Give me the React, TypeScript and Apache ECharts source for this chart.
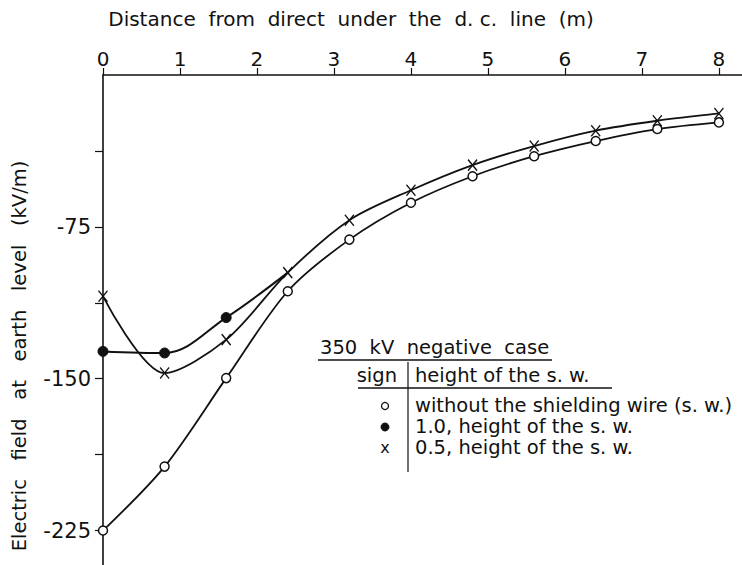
import React, { useEffect, useRef } from "react";
import * as echarts from "echarts";

// Distances (m) from directly under the d.c. line
const distances = [0, 0.8, 1.6, 2.4, 3.2, 4.0, 4.8, 5.6, 6.4, 7.2, 8.0];
// Electric field at earth level (kV/m)
const withoutSW = [-225, -193.4, -149.7, -106.8, -81.3, -63.1, -50.0, -40.1, -32.6, -26.7, -23.4];
const halfHeightSW = [-109.3, -147.2, -130.7, -97.6, -71.7, -56.9, -44.5, -35.1, -27.5, -22.6, -19.0];
const fullHeightDistances = [0, 0.8, 1.6, 2.4];
const fullHeightSW = [-136.5, -137.3, -119.8, -97.6];

const xTickValues = [0, 1, 2, 3, 4, 5, 6, 7, 8];
const yTickValues = [-37.5, -75, -112.5, -150, -187.5, -225];
const yLabelValues = [-75, -150, -225];

const xTitle = "Distance  from  direct  under  the  d. c.  line  (m)";
const yTitle = "Electric   field   at   earth   level   (kV/m)";
const legendTitle = "350  kV  negative  case";
const legendHeadSign = "sign";
const legendHeadHeight = "height of the s. w.";
const legendRows = [
  "without the shielding wire (s. w.)",
  "1.0, height of the s. w.",
  "0.5, height of the s. w.",
];

const FONT = "DejaVu Sans";
const INK = "#111";

export default function App() {
  const ref = useRef<HTMLDivElement>(null);
  useEffect(() => {
    if (!ref.current) return;
    const chart = echarts.init(ref.current, undefined, { renderer: "svg" });
    const txt = { fill: INK, fontFamily: FONT, fontSize: 19.5 };
    const option: any = {
      animation: false,
      backgroundColor: "#fff",
      grid: { left: 103, top: 75, right: 0, bottom: 0, containLabel: false },
      xAxis: {
        type: "value",
        position: "top",
        min: 0,
        max: 8.3,
        axisLine: { show: true, onZero: false, lineStyle: { color: INK, width: 1.6 } },
        axisTick: { show: true, customValues: xTickValues, length: 7, lineStyle: { color: INK, width: 1.2 } },
        axisLabel: { customValues: xTickValues, fontSize: 20, color: INK, fontFamily: FONT, margin: 6 },
        splitLine: { show: false },
      },
      yAxis: {
        type: "value",
        min: -242,
        max: 0,
        axisLine: { show: true, onZero: false, lineStyle: { color: INK, width: 1.6 } },
        axisTick: { show: true, customValues: yTickValues, length: 8, lineStyle: { color: INK, width: 1.2 } },
        axisLabel: { customValues: yLabelValues, fontSize: 21, color: INK, fontFamily: FONT, margin: 12 },
        splitLine: { show: false },
      },
      series: [
        {
          name: legendRows[0],
          type: "line",
          smooth: 0.3,
          data: distances.map((d, i) => [d, withoutSW[i]]),
          symbol: "circle",
          symbolSize: 9,
          lineStyle: { color: INK, width: 1.8 },
          itemStyle: { color: "#fff", borderColor: INK, borderWidth: 1.5 },
          z: 3,
        },
        {
          name: legendRows[1],
          type: "line",
          smooth: 0.35,
          data: fullHeightDistances.map((d, i) =>
            i === fullHeightDistances.length - 1
              ? { value: [d, fullHeightSW[i]], symbol: "none" }
              : [d, fullHeightSW[i]]
          ),
          symbol: "circle",
          symbolSize: 10,
          lineStyle: { color: INK, width: 2 },
          itemStyle: { color: INK, borderColor: INK, borderWidth: 1 },
          z: 4,
        },
        {
          name: legendRows[2],
          type: "line",
          smooth: 0.3,
          data: distances.map((d, i) => [d, halfHeightSW[i]]),
          symbol: "path://M0 0 L10 12 M10 0 L0 12",
          symbolSize: [9, 11],
          lineStyle: { color: INK, width: 1.8 },
          itemStyle: { color: "#fff", borderColor: INK, borderWidth: 1.4 },
          z: 5,
        },
      ],
      graphic: [
        { type: "text", x: 351, y: 19, style: { ...txt, fontSize: 20, text: xTitle, textAlign: "center", textVerticalAlign: "middle" } },
        {
          type: "text",
          x: 19,
          y: 356,
          rotation: Math.PI / 2,
          style: { ...txt, text: yTitle, textAlign: "center", textVerticalAlign: "middle" },
        },
        { type: "text", x: 320, y: 347, style: { ...txt, text: legendTitle, textVerticalAlign: "middle" } },
        { type: "line", shape: { x1: 318, y1: 360, x2: 552, y2: 360 }, style: { stroke: INK, lineWidth: 1.5 } },
        { type: "text", x: 397, y: 375, style: { ...txt, text: legendHeadSign, textAlign: "right", textVerticalAlign: "middle" } },
        { type: "text", x: 415, y: 375, style: { ...txt, text: legendHeadHeight, textVerticalAlign: "middle" } },
        { type: "line", shape: { x1: 408, y1: 362, x2: 408, y2: 472 }, style: { stroke: INK, lineWidth: 1.2 } },
        { type: "line", shape: { x1: 358, y1: 388, x2: 612, y2: 388 }, style: { stroke: INK, lineWidth: 1.5 } },
        { type: "circle", shape: { cx: 385, cy: 406, r: 3.5 }, style: { fill: "#fff", stroke: INK, lineWidth: 1.3 } },
        { type: "circle", shape: { cx: 385, cy: 427, r: 4 }, style: { fill: INK, stroke: INK, lineWidth: 1 } },
        { type: "text", x: 385, y: 447, style: { ...txt, fontSize: 16, text: "x", textAlign: "center", textVerticalAlign: "middle" } },
        { type: "text", x: 415, y: 405, style: { ...txt, text: legendRows[0], textVerticalAlign: "middle" } },
        { type: "text", x: 415, y: 426, style: { ...txt, text: legendRows[1], textVerticalAlign: "middle" } },
        { type: "text", x: 415, y: 447, style: { ...txt, text: legendRows[2], textVerticalAlign: "middle" } },
      ],
    };
    chart.setOption(option);
    return () => chart.dispose();
  }, []);
  return (
    <div
      ref={ref}
      style={{ position: "fixed", left: 0, top: 0, width: 742, height: 565, background: "#fff" }}
    />
  );
}
